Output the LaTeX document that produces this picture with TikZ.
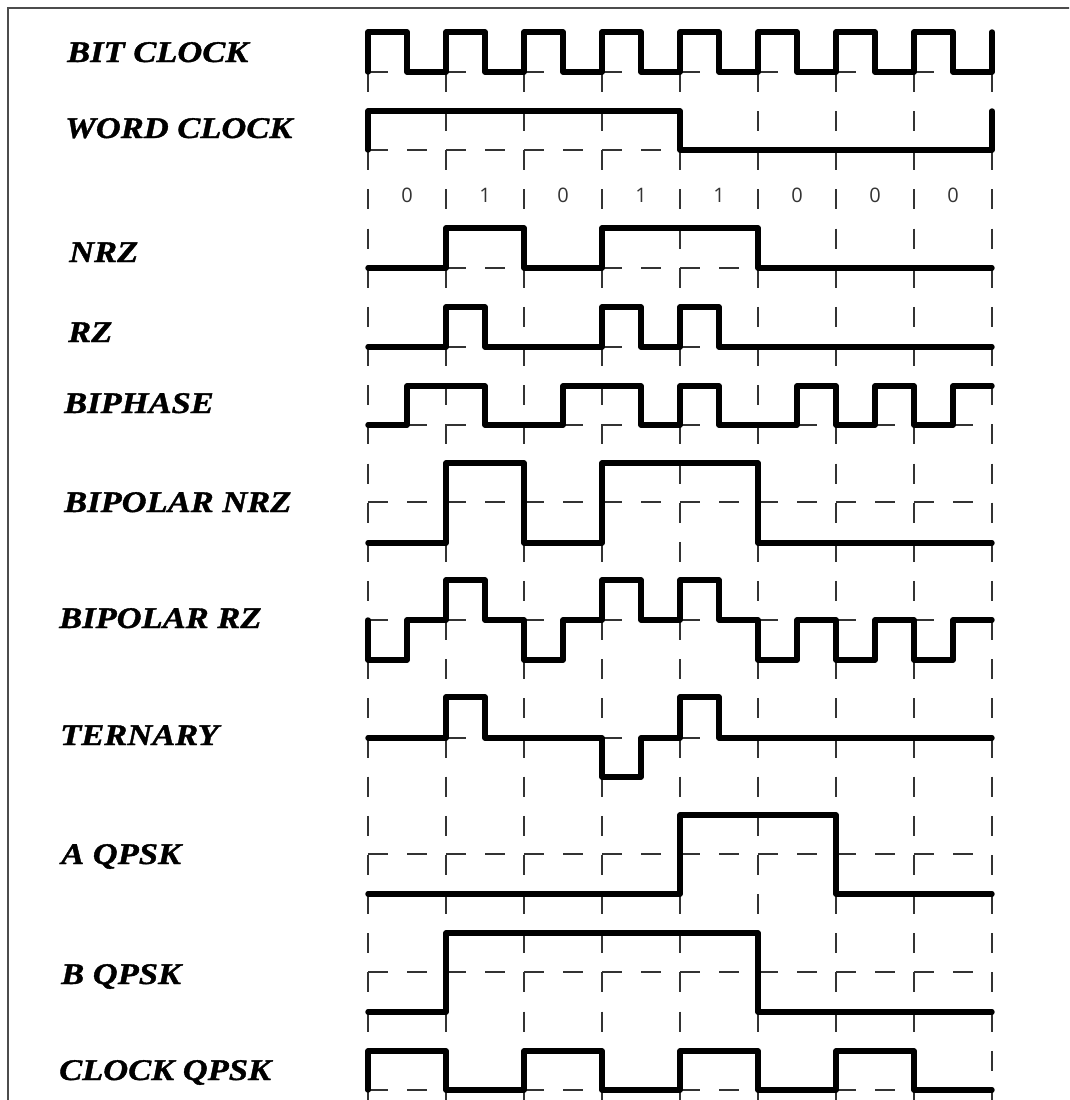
\documentclass[tikz,border=0pt]{standalone}
\usepackage{fontspec}
\newfontfamily\lblfont{Liberation Serif}[FakeStretch=1.15, BoldItalicFeatures={FakeBold=1.2}]
\newfontfamily\digfont{Open Sans}
\tikzset{
  lbl/.style={anchor=base west, inner sep=0pt, font=\fontsize{30}{36}\lblfont\bfseries\itshape},
  dig/.style={anchor=center, inner sep=0pt, text=black!80, font=\fontsize{20}{24}\digfont},
  wave/.style={line width=5.4pt, line join=round, line cap=round, black},
  gridv/.style={line width=1.4pt, black!80, dash pattern=on 20pt off 19.15pt},
  gridh/.style={line width=1.4pt, black!80, dash pattern=on 20pt off 19pt},
  frame/.style={line width=1.6pt, black!70}
}
\begin{document}
\begin{tikzpicture}[x=1pt,y=-1pt]
\useasboundingbox (0,0) rectangle (1069,1100);
\clip (0,0) rectangle (1069,1100);
% frame
\draw[frame] (8,1110) -- (8,8) -- (1075,8);
% grid
\foreach \gx in {368,446,524,602,680,758,836,914,992}
  \draw[gridv] (\gx,32.85) -- (\gx,1110);
\foreach \gy in {72,150,268,347,425,502,620,738,854,972,1090}
  \draw[gridh] (368,\gy) -- (992,\gy);
% labels
\node[lbl] (lbit)  at (67,62)   {BIT CLOCK};
\node[lbl] (lword) at (65,138)  {WORD CLOCK};
\node[lbl] (lnrz)  at (69,262)  {NRZ};
\node[lbl] (lrz)   at (68,342)  {RZ};
\node[lbl] (lbiph) at (64,413)  {BIPHASE};
\node[lbl] (lbnrz) at (64,512)  {BIPOLAR NRZ};
\node[lbl] (lbrz)  at (59,628)  {BIPOLAR RZ};
\node[lbl] (lter)  at (60,745)  {TERNARY};
\node[lbl] (laq)   at (61,864)  {A QPSK};
\node[lbl] (lbq)   at (61,984)  {B QPSK};
\node[lbl] (lcq)   at (59,1080) {CLOCK QPSK};
% data bits
\node[dig] (d1) at (407,195) {0};
\node[dig] (d2) at (485,195) {1};
\node[dig] (d3) at (563,195) {0};
\node[dig] (d4) at (641,195) {1};
\node[dig] (d5) at (719,195) {1};
\node[dig] (d6) at (797,195) {0};
\node[dig] (d7) at (875,195) {0};
\node[dig] (d8) at (953,195) {0};
% BIT CLOCK
\draw[wave] (368,72) |- (407,32) |- (446,72) |- (485,32) |- (524,72) |- (563,32) |- (602,72) |- (641,32) |- (680,72) |- (719,32) |- (758,72) |- (797,32) |- (836,72) |- (875,32) |- (914,72) |- (953,32) |- (992,72) -- (992,32);
% WORD CLOCK
\draw[wave] (368,150) |- (680,111) |- (992,150) -- (992,111);
% NRZ
\draw[wave] (368,268) -- (446,268) |- (524,228) |- (602,268) |- (758,228) |- (992,268);
% RZ
\draw[wave] (368,347) -- (446,347) |- (485,307) |- (602,347) |- (641,307) |- (680,347) |- (719,307) |- (992,347);
% BIPHASE
\draw[wave] (368,425) -- (407,425) |- (485,386) |- (563,425) |- (641,386) |- (680,425) |- (719,386) |- (797,425) |- (836,386) |- (875,425) |- (914,386) |- (953,425) |- (992,386);
% BIPOLAR NRZ
\draw[wave] (368,543) -- (446,543) |- (524,463) |- (602,543) |- (758,463) |- (992,543);
% BIPOLAR RZ
\draw[wave] (368,620) -- (368,660) -- (407,660) |- (446,620) |- (485,580) |- (524,620) |- (563,660) |- (602,620) |- (641,580) |- (680,620) |- (719,580) |- (758,620) |- (797,660) |- (836,620) |- (875,660) |- (914,620) |- (953,660) |- (992,620);
% TERNARY
\draw[wave] (368,738) -- (446,738) |- (485,697) |- (602,738) |- (641,777) |- (680,738) |- (719,697) |- (992,738);
% A QPSK
\draw[wave] (368,894) -- (680,894) |- (836,815) |- (992,894);
% B QPSK
\draw[wave] (368,1012) -- (446,1012) |- (758,933) |- (992,1012);
% CLOCK QPSK
\draw[wave] (368,1090) -- (368,1051) -- (446,1051) |- (524,1090) |- (602,1051) |- (680,1090) |- (758,1051) |- (836,1090) |- (914,1051) |- (992,1090);
\end{tikzpicture}
\end{document}
